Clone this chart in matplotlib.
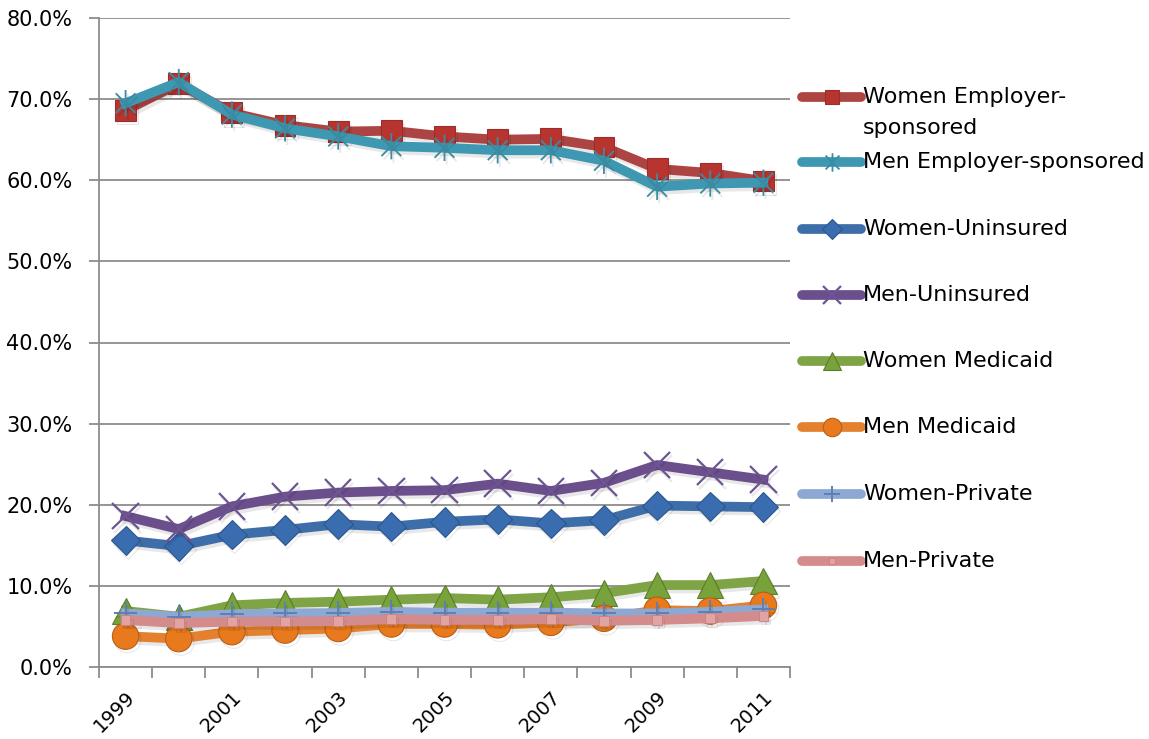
import numpy as np
import matplotlib
matplotlib.use("Agg")
import matplotlib.pyplot as plt
import matplotlib.patheffects as pe
from matplotlib.path import Path
from matplotlib.lines import Line2D
from matplotlib.ticker import PercentFormatter, MultipleLocator, FixedLocator

# porcentaje de cobertura por año (mujeres / hombres)
years = [1999, 2000, 2001, 2002, 2003, 2004, 2005, 2006, 2007, 2008, 2009, 2010, 2011]
women_emp = [68.6, 71.9, 68.3, 66.8, 66.0, 66.1, 65.4, 65.0, 65.1, 64.1, 61.4, 60.9, 59.9]
men_emp = [69.5, 72.1, 68.1, 66.4, 65.4, 64.2, 64.0, 63.7, 63.7, 62.4, 59.2, 59.6, 59.7]
women_unins = [15.6, 14.9, 16.3, 16.9, 17.6, 17.3, 17.9, 18.2, 17.7, 18.1, 19.9, 19.8, 19.7]
men_unins = [18.6, 17.0, 19.8, 21.0, 21.5, 21.7, 21.8, 22.6, 21.7, 22.7, 24.9, 24.0, 23.1]
women_medicaid = [6.9, 6.2, 7.6, 7.9, 8.05, 8.3, 8.5, 8.3, 8.6, 9.1, 10.1, 10.1, 10.6]
men_medicaid = [3.8, 3.5, 4.35, 4.55, 4.75, 5.3, 5.3, 5.2, 5.5, 6.0, 7.0, 6.9, 7.6]
women_private = [6.6, 6.2, 6.5, 6.6, 6.65, 6.8, 6.7, 6.7, 6.7, 6.6, 6.6, 6.8, 7.1]
men_private = [5.8, 5.4, 5.6, 5.6, 5.65, 5.9, 5.8, 5.8, 5.9, 5.7, 5.8, 6.0, 6.3]

labels = ["Women Employer-\nsponsored", "Men Employer-sponsored", "Women-Uninsured",
          "Men-Uninsured", "Women Medicaid", "Men Medicaid", "Women-Private", "Men-Private"]

# marcador asterisco (X con barra vertical)
star = Path([(0, -1), (0, 1), (-0.75, -0.75), (0.75, 0.75), (-0.75, 0.75), (0.75, -0.75)],
            [Path.MOVETO, Path.LINETO, Path.MOVETO, Path.LINETO, Path.MOVETO, Path.LINETO])

estilos = [
    dict(color="#AB4442", marker="s", ms=15, mfc="#B8342F", mec="#9A2E2A", mew=0.8),
    dict(color="#3F98B1", marker=star, ms=19, mfc="none", mec="#3A8CA3", mew=1.3),
    dict(color="#3E6EA9", marker="D", ms=15, mfc="#3A6CB0", mec="#2D568C", mew=0.8),
    dict(color="#6B4F8C", marker="x", ms=19, mfc="none", mec="#6E5592", mew=1.6),
    dict(color="#7EA445", marker="^", ms=19, mfc="#78A23A", mec="#5C7D2E", mew=0.8),
    dict(color="#E4812F", marker="o", ms=19, mfc="#E8791C", mec="#B85F18", mew=0.8),
    dict(color="#8DA8D2", marker="+", ms=17, mfc="none", mec="#5D7FB4", mew=1.4),
    dict(color="#D38B8B", marker="s", ms=7, mfc="#E2A3A3", mec="#C98080", mew=0.6),
]
series = [women_emp, men_emp, women_unins, men_unins, women_medicaid, men_medicaid,
          women_private, men_private]

# sombra suave debajo de cada serie
sombra = [pe.SimpleLineShadow(offset=(1.5, -2.5), shadow_color="black", alpha=0.09), pe.Normal()]

fig = plt.figure(figsize=(11.49, 7.39), dpi=100)
ax = fig.add_axes([99 / 1149, 72 / 739, 691 / 1149, 649 / 739])

x = np.arange(len(years))
for i in range(len(series)):
    st = estilos[i]
    ax.plot(x, series[i], color=st["color"], lw=7, solid_joinstyle="round",
            marker=st["marker"], ms=st["ms"], mfc=st["mfc"], mec=st["mec"], mew=st["mew"],
            path_effects=sombra, zorder=3 + i, clip_on=False)

ax.set_xlim(-0.5, len(years) - 0.5)
ax.set_ylim(0, 80)
ax.yaxis.set_major_locator(MultipleLocator(10))
ax.yaxis.set_major_formatter(PercentFormatter(100, decimals=1))
ax.grid(axis="y", color="#8C8C8C", lw=1.3)
ax.set_axisbelow(True)

# ticks en los bordes de cada categoria, etiquetas cada dos años
ax.xaxis.set_minor_locator(FixedLocator(np.arange(-0.5, len(years), 1)))
ax.set_xticks(x[::2])
ax.set_xticklabels([str(a) for a in years[::2]], rotation=45, ha="right",
                   rotation_mode="anchor", fontsize=14)
ax.tick_params(axis="x", which="major", length=0, pad=15)
ax.tick_params(axis="x", which="minor", length=8, width=1.3, color="#8C8C8C", direction="out")
ax.tick_params(axis="y", length=7, width=1.3, color="#8C8C8C", labelsize=15, pad=12)

for s in ["top", "right"]:
    ax.spines[s].set_visible(False)
for s in ["left", "bottom"]:
    ax.spines[s].set_color("#8C8C8C")
    ax.spines[s].set_linewidth(1.3)

# leyenda a mano
ys = [97, 162, 229, 295, 361, 427, 494, 561]
for i in range(len(labels)):
    st = estilos[i]
    yf = 1 - ys[i] / 739
    fig.add_artist(Line2D([802 / 1149, 861 / 1149], [yf, yf], transform=fig.transFigure,
                          color=st["color"], lw=7, solid_capstyle="round"))
    fig.add_artist(Line2D([831.5 / 1149], [yf], transform=fig.transFigure, lw=0,
                          marker=st["marker"], ms=st["ms"] * 0.7, mfc=st["mfc"],
                          mec=st["mec"], mew=st["mew"]))
    partes = labels[i].split("\n")
    for k in range(len(partes)):
        fig.text(863 / 1149, yf - k * 31 / 739, partes[k], fontsize=16, va="center", ha="left")

fig.savefig("out.png", dpi=100)
